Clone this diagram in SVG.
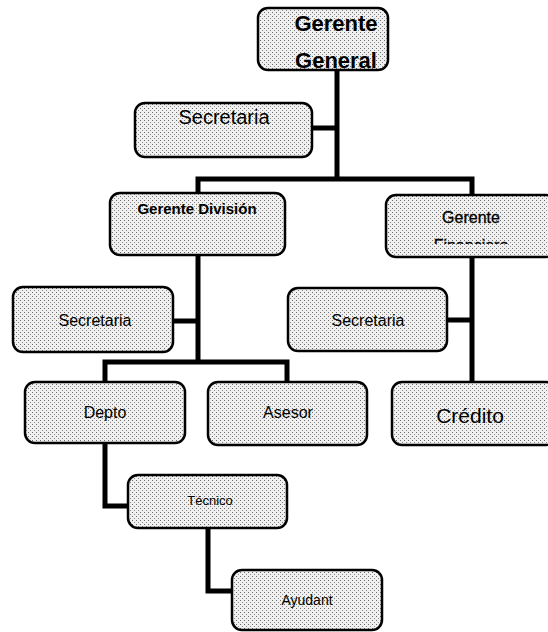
<svg xmlns="http://www.w3.org/2000/svg" width="548" height="632" viewBox="0 0 548 632">
<style>
.box{fill:url(#dots);stroke:#000;stroke-width:2.5}
.t{font-family:"Liberation Sans",Arial,sans-serif;fill:#000;text-anchor:middle}
.b{font-weight:bold}
.conn{fill:none;stroke:#000;stroke-width:5}
</style>
<defs>
<pattern id="dots" width="4" height="4" patternUnits="userSpaceOnUse">
<rect width="4" height="4" fill="#f0f0f0"/>
<rect x="0" y="0" width="1" height="1" fill="#6a6a6a"/>
<rect x="2" y="2" width="1" height="1" fill="#8a8a8a"/>
</pattern>
<clipPath id="cGG"><rect x="258" y="8" width="130" height="60"/></clipPath>
<clipPath id="cGF"><rect x="386" y="195" width="162" height="49"/></clipPath>
</defs>
<rect width="548" height="632" fill="#fff"/>
<g id="connectors">
<path class="conn" d="M337 70 V180"/>
<path class="conn" d="M312 128 H337"/>
<path class="conn" d="M198 193 V179 H472 V195"/>
<path class="conn" d="M198 255 V362"/>
<path class="conn" d="M173 321 H198"/>
<path class="conn" d="M105 382 V362 H287 V382"/>
<path class="conn" d="M472 257 V382"/>
<path class="conn" d="M447 320 H472"/>
<path class="conn" d="M105 443 V506 H128"/>
<path class="conn" d="M208 528 V591 H232"/>
</g>
<g id="gerente-general">
<rect class="box" x="258" y="8" width="130" height="62" rx="10"/>
<g clip-path="url(#cGG)">
<text class="t b" x="336" y="31" font-size="22">Gerente</text>
<text class="t b" x="336" y="68" font-size="22">General</text>
</g>
</g>
<g id="secretaria-general">
<rect class="box" x="135" y="103" width="177" height="54" rx="10"/>
<text class="t" x="224" y="124" font-size="20">Secretaria</text>
</g>
<g id="gerente-division">
<rect class="box" x="110" y="193" width="175" height="62" rx="10"/>
<text class="t b" x="197" y="214" font-size="15">Gerente División</text>
</g>
<g id="gerente-financiero">
<rect class="box" x="386" y="195" width="170" height="62" rx="10"/>
<g clip-path="url(#cGF)">
<text class="t" x="471" y="223" font-size="16" stroke="#000" stroke-width="0.3">Gerente</text>
<text class="t" x="471" y="251" font-size="16" stroke="#000" stroke-width="0.3">Financiero</text>
</g>
</g>
<g id="secretaria-division">
<rect class="box" x="13" y="287" width="160" height="65" rx="10"/>
<text class="t" x="95" y="326" font-size="16">Secretaria</text>
</g>
<g id="secretaria-financiero">
<rect class="box" x="288" y="288" width="159" height="63" rx="10"/>
<text class="t" x="368" y="326" font-size="16">Secretaria</text>
</g>
<g id="depto">
<rect class="box" x="25" y="382" width="160" height="61" rx="10"/>
<text class="t" x="105" y="418" font-size="16">Depto</text>
</g>
<g id="asesor">
<rect class="box" x="208" y="382" width="159" height="63" rx="10"/>
<text class="t" x="288" y="418" font-size="16">Asesor</text>
</g>
<g id="credito">
<rect class="box" x="392" y="382" width="164" height="63" rx="10"/>
<text class="t" x="470" y="423" font-size="21">Crédito</text>
</g>
<g id="tecnico">
<rect class="box" x="128" y="475" width="159" height="53" rx="10"/>
<text class="t" x="210" y="505" font-size="13">Técnico</text>
</g>
<g id="ayudant">
<rect class="box" x="232" y="570" width="150" height="60" rx="10"/>
<text class="t" x="307" y="605" font-size="14">Ayudant</text>
</g>
</svg>
